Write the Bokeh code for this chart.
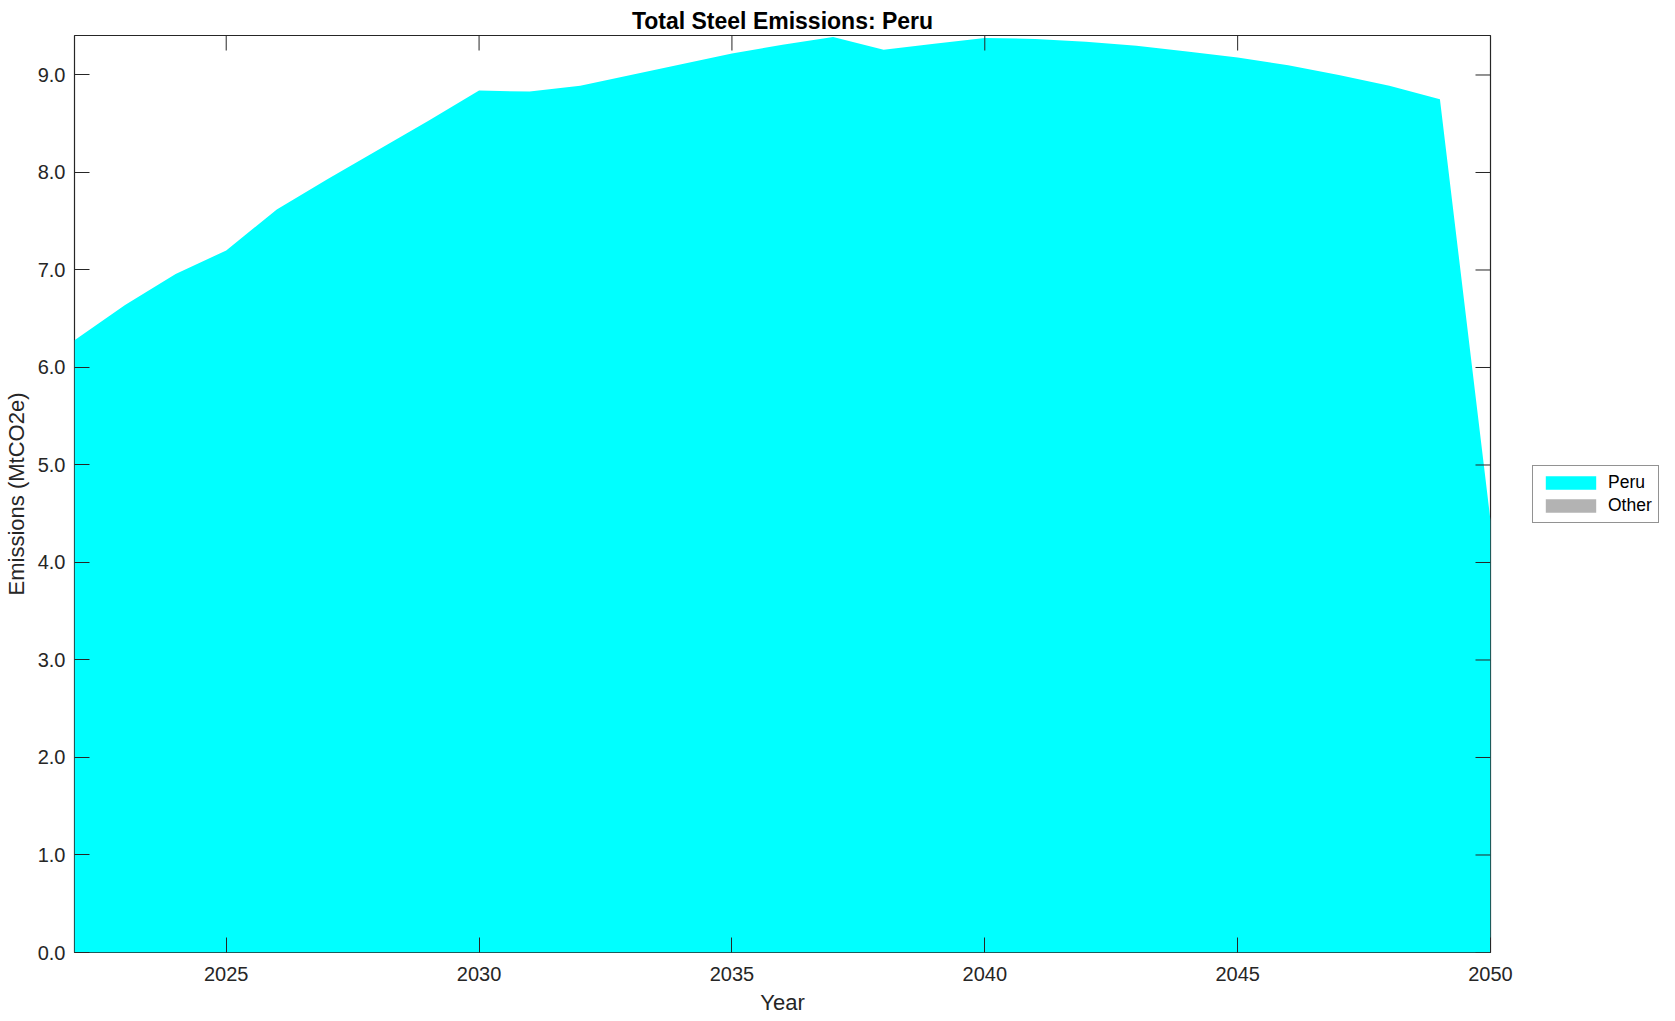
import math
from bokeh.plotting import figure
from bokeh.models import (Range1d, FixedTicker, PrintfTickFormatter,
                          Legend, LegendItem, Title)
from bokeh.embed import file_html
from bokeh.resources import INLINE

years = list(range(2022, 2051))
peru = [6.28, 6.64, 6.96, 7.20, 7.62, 7.93, 8.23, 8.53, 8.84, 8.83,
        8.89, 9.00, 9.11, 9.22, 9.31, 9.39, 9.26, 9.32, 9.38, 9.37,
        9.34, 9.30, 9.24, 9.18, 9.10, 9.00, 8.89, 8.75, 4.43]
other = [0.0] * len(years)
series_names = ["Peru", "Other"]
series_colors = ["#00ffff", "#b3b3b3"]
x_ticks = [2025, 2030, 2035, 2040, 2045, 2050]
y_ticks = [0, 1, 2, 3, 4, 5, 6, 7, 8, 9]

X0, X1 = 2022, 2050
Y0, Y1 = 0, 9.405

FONT = "Liberation Sans"
AX = "#262626"

FW, FH = 1416, 917
BL, BT, BB = 67, 35, 58
BR = 1660 - BL - FW
p = figure(frame_width=FW, frame_height=FH, output_backend="svg", toolbar_location=None,
           x_range=Range1d(X0, X1), y_range=Range1d(Y0, Y1),
           min_border_left=BL, min_border_top=BT, min_border_right=BR,
           min_border_bottom=BB)
p.title = None
p.add_layout(Title(text="Total Steel Emissions: Peru", align="center",
                   text_font=FONT, text_font_size="23px", text_font_style="bold",
                   text_color="black", standoff=3, offset=0), "above")

source = {"x": years, "Peru": peru, "Other": other}
areas = p.varea_stack(stackers=series_names, x="x", color=series_colors,
                      source=source)

# inward ticks on the top and right edges of the box
p.ray(x=x_ticks, y=[Y1] * len(x_ticks), length=15, length_units="screen",
      angle=-math.pi / 2, line_color=AX, line_width=1)
p.ray(x=[X1] * len(y_ticks), y=y_ticks, length=15, length_units="screen",
      angle=math.pi, line_color=AX, line_width=1)

p.grid.visible = False
p.outline_line_color = AX
p.outline_line_width = 1.2
p.background_fill_color = "white"
p.border_fill_color = "white"

for ax in (p.xaxis[0], p.yaxis[0]):
    ax.major_label_text_font = FONT
    ax.major_label_text_font_size = "20px"
    ax.major_label_text_color = AX
    ax.axis_label_text_font = FONT
    ax.axis_label_text_font_size = "22px"
    ax.axis_label_text_font_style = "normal"
    ax.axis_label_text_color = AX
    ax.axis_line_color = None
    ax.major_tick_in = 15
    ax.major_tick_out = 0
    ax.major_tick_line_color = AX
    ax.minor_tick_line_color = None

p.xaxis[0].ticker = FixedTicker(ticks=x_ticks)
p.xaxis[0].axis_label = "Year"
p.xaxis[0].major_label_standoff = 14
p.xaxis[0].axis_label_standoff = 6
p.yaxis[0].ticker = FixedTicker(ticks=y_ticks)
p.yaxis[0].formatter = PrintfTickFormatter(format="%.1f")
p.yaxis[0].axis_label = "Emissions (MtCO2e)"
p.yaxis[0].major_label_standoff = 9
p.yaxis[0].axis_label_standoff = 6

legend = Legend(items=[LegendItem(label=n, renderers=[r]) for n, r in zip(series_names, areas)],
                location="center_left", orientation="vertical",
                glyph_width=63, glyph_height=17, label_height=17, spacing=2,
                padding=6, margin=42, label_standoff=6,
                label_text_font=FONT, label_text_font_size="17.5px", label_text_color="black",
                border_line_color=AX, border_line_width=1.2,
                background_fill_color="white", background_fill_alpha=1.0)
p.add_layout(legend, "right")

open("out.html", "w").write(file_html(p, INLINE))
